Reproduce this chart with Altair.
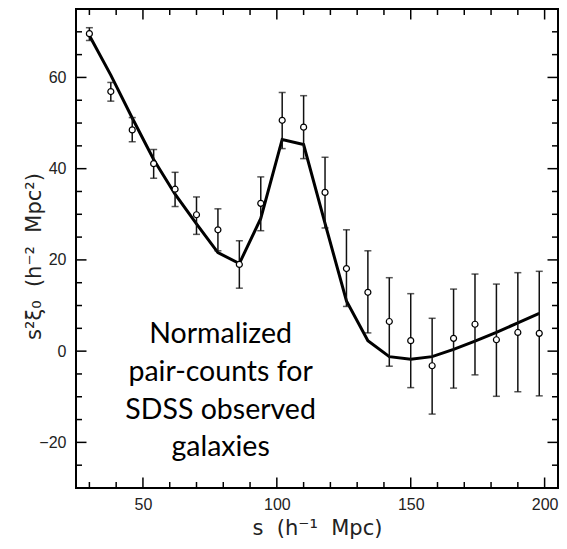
import altair as alt
import pandas as pd

# ---- data ----
s_vals = [30, 38, 46, 54, 62, 70, 78, 86, 94, 102, 110, 118, 126, 134, 142, 150, 158, 166, 174, 182, 190, 198]
obs = [69.6, 56.9, 48.5, 41.1, 35.5, 29.9, 26.6, 19.0, 32.4, 50.6, 49.1, 34.8, 18.1, 12.9, 6.5, 2.3, -3.2, 2.8, 5.9, 2.5, 4.1, 3.9]
err_hi = [70.9, 58.9, 51.2, 44.2, 39.2, 33.8, 31.2, 24.2, 38.2, 56.7, 56.0, 42.5, 26.6, 22.0, 16.1, 12.6, 7.2, 13.6, 16.9, 14.7, 17.2, 17.5]
err_lo = [68.1, 54.8, 45.9, 37.9, 31.7, 25.6, 22.0, 13.8, 26.4, 44.4, 42.2, 27.0, 9.8, 4.0, -3.3, -8.0, -13.8, -8.1, -5.2, -9.9, -8.9, -9.8]
model = [69.2, 60.5, 51.1, 42.0, 34.4, 27.9, 21.6, 19.2, 29.1, 46.4, 45.3, 28.0, 11.0, 2.3, -1.2, -1.8, -1.2, 0.4, 2.2, 4.1, 6.2, 8.3]

x_labels = [50, 100, 150, 200]
y_labels = [-20, 0, 20, 40, 60]
x_minor = [30, 40, 60, 70, 80, 90, 110, 120, 130, 140, 160, 170, 180, 190]
y_minor = [-25, -15, -10, -5, 5, 10, 15, 25, 30, 35, 45, 50, 55, 65, 70]

note_lines = ["Normalized", "pair-counts for", "SDSS observed", "galaxies"]
note_pos = [79, 1.8]

SP = "\u00a0\u00a0"
x_title = "s" + SP + "(h⁻¹" + SP + "Mpc)"
y_title = "s²ξ₀" + SP + "(h⁻²" + SP + "Mpc²)"

W, H = 482, 479
MAJ, MIN = 10.5, 6

df = pd.DataFrame({"s": s_vals, "obs": obs, "hi": err_hi, "lo": err_lo, "model": model})

xscale = alt.Scale(domain=[25, 205], nice=False, zero=False)
yscale = alt.Scale(domain=[-30, 75], nice=False, zero=False)

xaxis = alt.Axis(values=x_labels, ticks=False, domain=False, grid=False,
                 labelFontSize=16, labelPadding=8, labelColor="#222", labelFont="Liberation Sans",
                 title=x_title, titleFontSize=21, titleFont="DejaVu Sans",
                 titleFontWeight="normal", titleColor="#222",
                 titleX=W / 2, titleY=46, titleBaseline="alphabetic", titleAlign="center")
yaxis = alt.Axis(values=y_labels, ticks=False, domain=False, grid=False,
                 labelFontSize=16, labelPadding=10, labelColor="#222", labelFont="Liberation Sans",
                 title=y_title, titleFontSize=21, titleFont="DejaVu Sans",
                 titleFontWeight="normal", titleColor="#222", titleAngle=270,
                 titleX=-36, titleY=247, titleBaseline="alphabetic", titleAlign="center")

X = lambda f: alt.X(f"{f}:Q", scale=xscale, axis=xaxis)
Y = lambda f: alt.Y(f"{f}:Q", scale=yscale, axis=yaxis)

base = alt.Chart(df)

line = base.mark_line(color="black", strokeWidth=3).encode(x=X("s"), y=Y("model"))
bars = base.mark_rule(color="#111", strokeWidth=1.5).encode(x=X("s"), y=Y("lo"), y2="hi")
cap_lo = base.mark_tick(color="#111", thickness=1.5, size=7, orient="horizontal").encode(x=X("s"), y=Y("lo"))
cap_hi = base.mark_tick(color="#111", thickness=1.5, size=7, orient="horizontal").encode(x=X("s"), y=Y("hi"))
pts = base.mark_point(shape="circle", filled=True, fill="white", stroke="black", strokeWidth=1.2,
                      size=36, opacity=1).encode(x=X("s"), y=Y("obs"))

note_df = pd.DataFrame({"x": [note_pos[0]], "y": [note_pos[1]], "t": [note_lines]})
note = alt.Chart(note_df).mark_text(font="Lato", fontSize=28.5, color="black", align="center",
                                    baseline="alphabetic", lineHeight=37.8).encode(
    x=X("x"), y=Y("y"), text="t")

xmaj_df = pd.DataFrame({"v": x_labels})
xmin_df = pd.DataFrame({"v": x_minor})
ymaj_df = pd.DataFrame({"v": y_labels})
ymin_df = pd.DataFrame({"v": y_minor})

def xticks(d, L):
    b = alt.Chart(d).mark_rule(color="black", strokeWidth=1.5)
    return [b.encode(x=X("v"), y=alt.value(H), y2=alt.value(H - L)),
            b.encode(x=X("v"), y=alt.value(0), y2=alt.value(L))]

def yticks(d, L):
    b = alt.Chart(d).mark_rule(color="black", strokeWidth=1.5)
    return [b.encode(y=Y("v"), x=alt.value(0), x2=alt.value(L)),
            b.encode(y=Y("v"), x=alt.value(W), x2=alt.value(W - L))]

ticks = xticks(xmaj_df, MAJ) + xticks(xmin_df, MIN) + yticks(ymaj_df, MAJ) + yticks(ymin_df, MIN)

chart = alt.layer(line, bars, cap_lo, cap_hi, pts, note, *ticks).properties(
    width=W, height=H,
    autosize=alt.AutoSizeParams(type="none"),
    padding={"left": 68, "top": 1, "right": 1, "bottom": 53},
).configure_view(stroke="black", strokeWidth=2)

chart.save("out.html", embed_options={"renderer": "svg", "actions": False})
